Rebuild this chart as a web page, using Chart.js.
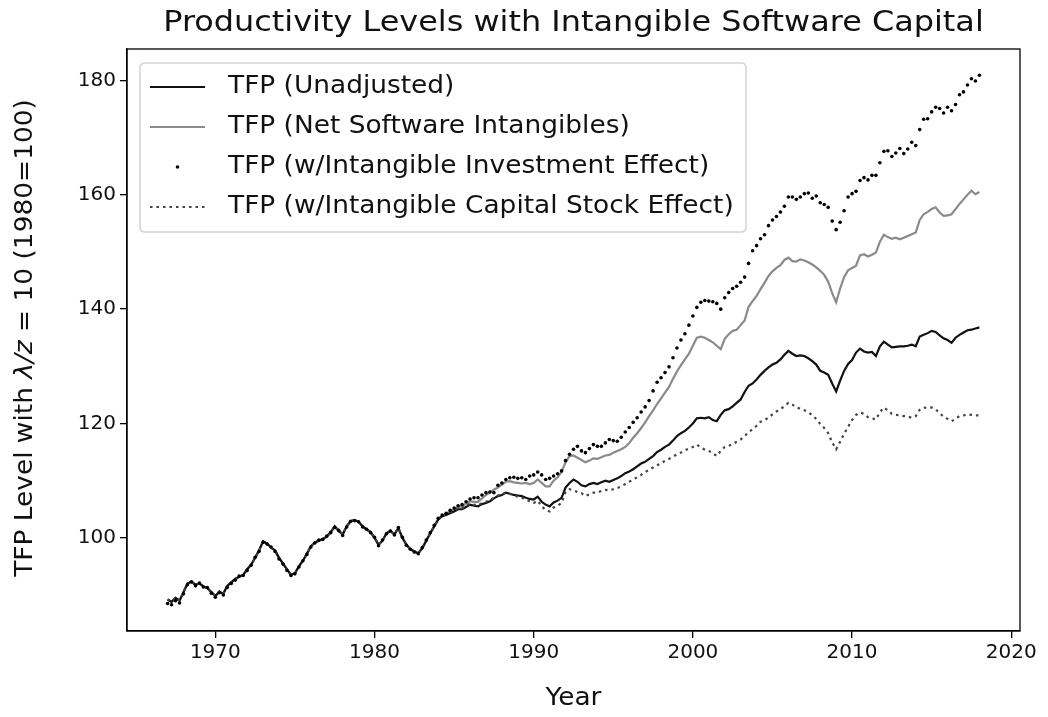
<!DOCTYPE html>
<html><head><meta charset="utf-8">
<script src="https://cdn.jsdelivr.net/npm/chart.js@4/dist/chart.umd.min.js"></script>
<style>html,body{margin:0;padding:0;background:#fff;}#wrap{width:1048px;height:717px;}</style>
</head><body><div id="wrap"><canvas id="c" width="1048" height="717"></canvas></div>
<script>
const chartTitle = 'Productivity Levels with Intangible Software Capital';
const xAxisTitle = 'Year';
const yAxisTitleParts = [['TFP Level with ', false], ['\u03bb/z', true], [' = 10 (1980=100)', false]];
const seriesNames = ['TFP (Unadjusted)', 'TFP (Net Software Intangibles)', 'TFP (w/Intangible Investment Effect)', 'TFP (w/Intangible Capital Stock Effect)'];
const startYear = 1967;           // first quarter 1967Q1, quarterly data
const xTicks = [1970, 1980, 1990, 2000, 2010, 2020];
const yTicks = [100, 120, 140, 160, 180];

const tfpUnadjusted = [
  89.2,88.8,89.5,89.0, 90.5,92.0,92.3,91.8, 92.0,91.5,91.2,90.5, 89.8,90.6,90.2,91.6,
  92.2,92.8,93.2,93.5, 94.5,95.3,96.5,97.8, 99.4,99.0,98.3,97.8, 96.5,95.5,94.5,93.5,
  93.8,95.0,96.0,97.2, 98.5,99.2,99.5,99.8, 100.2,101.0,102.0,101.2, 100.6,102.0,102.9,103.1,
  102.8,102.0,101.5,101.0, 100.0,98.8,99.5,100.8, 101.2,100.6,101.7,100.0, 98.8,98.0,97.6,97.3,
  98.2,99.5,100.8,102.0, 103.2,103.8,104.0,104.3,
  104.6,105.0,105.0,105.4, 105.8,105.6,105.5,105.9, 106.1,106.4,106.9,107.3, 107.5,107.9,107.7,107.5,
  107.4,107.3,107.0,106.8, 106.7,107.2,106.3,105.8, 105.5,106.2,106.5,107.0, 108.8,109.6,110.2,109.8,
  109.2,109.0,109.4,109.6, 109.4,109.7,110.0,109.8, 110.1,110.4,110.8,111.3, 111.6,112.0,112.5,113.0,
  113.3,113.8,114.3,115.0, 115.4,115.9,116.3,117.0, 117.8,118.3,118.7,119.3, 120.0,120.9,121.0,120.9,
  121.1,120.6,120.4,121.5, 122.3,122.5,123.0,123.6, 124.2,125.5,126.6,127.0, 127.7,128.5,129.2,129.8,
  130.3,130.6,131.2,132.0, 132.7,132.2,131.8,131.9, 131.8,131.4,130.9,130.3, 129.2,128.9,128.5,127.0,
  125.6,127.5,129.2,130.4, 131.1,132.4,133.1,132.6, 132.4,132.5,131.8,133.5, 134.3,133.8,133.3,133.4,
  133.5,133.5,133.6,133.8, 133.5,135.2,135.5,135.8, 136.2,136.0,135.4,134.9, 134.6,134.1,135.0,135.5,
  135.9,136.3,136.4,136.6, 136.8
];
const tfpNetSoftware = [
  89.2,88.8,89.5,89.0, 90.5,92.0,92.3,91.8, 92.0,91.5,91.2,90.5, 89.8,90.6,90.2,91.6,
  92.2,92.8,93.2,93.5, 94.5,95.3,96.5,97.8, 99.4,99.0,98.3,97.8, 96.5,95.5,94.5,93.5,
  93.8,95.0,96.0,97.2, 98.5,99.2,99.5,99.8, 100.2,101.0,102.0,101.2, 100.6,102.0,102.9,103.1,
  102.8,102.0,101.5,101.0, 100.0,98.8,99.5,100.8, 101.2,100.6,101.7,100.0, 98.8,98.0,97.6,97.3,
  98.2,99.5,100.8,102.0, 103.2,103.8,104.2,104.6,
  105.0,105.4,105.5,106.0, 106.4,106.3,106.3,106.9, 107.5,107.9,108.4,108.8, 109.3,109.8,109.9,109.7,
  109.6,109.5,109.6,109.4, 109.6,110.2,109.6,109.0, 109.0,110.0,110.6,111.5, 113.2,114.3,114.4,114.0,
  113.6,113.2,113.5,113.9, 113.8,114.1,114.4,114.5, 114.9,115.2,115.5,115.9, 116.6,117.5,118.3,119.2,
  120.2,121.3,122.3,123.4, 124.4,125.4,126.4,127.8, 129.1,130.2,131.2,132.2, 133.6,135.0,135.2,135.0,
  134.6,134.2,133.6,133.0, 134.8,135.6,136.2,136.4, 137.2,138.0,140.4,141.4, 142.3,143.5,144.6,145.8,
  146.6,147.2,147.7,148.6, 149.0,148.4,148.3,148.7, 148.5,148.2,147.8,147.3, 146.7,146.0,144.8,142.8,
  141.2,143.6,145.6,146.8, 147.2,147.6,149.4,149.6, 149.2,149.5,149.9,151.8, 153.0,152.6,152.3,152.5,
  152.2,152.5,152.8,153.1, 153.4,155.6,156.6,157.0, 157.5,157.8,156.9,156.3, 156.4,156.6,157.5,158.4,
  159.2,160.0,160.7,160.1, 160.5
];
const tfpInvestment = [
  88.5,88.3,89.0,88.6, 90.2,91.8,92.3,91.6, 92.1,91.4,91.3,90.3, 89.6,90.4,90.0,91.3,
  92.0,92.6,93.3,93.4, 94.3,95.2,96.6,97.6, 99.2,98.9,98.4,97.6, 96.3,95.4,94.3,93.4,
  93.7,94.9,96.0,97.1, 98.4,99.1,99.6,99.7, 100.3,100.9,101.8,101.3, 100.4,101.9,102.9,103.0,
  102.8,101.9,101.5,100.9, 100.1,98.6,99.6,100.7, 101.2,100.5,101.8,100.1, 98.7,98.0,97.5,97.2,
  98.3,99.6,100.9,102.2, 103.4,104.0,104.3,104.8,
  105.2,105.6,105.8,106.3, 106.8,107.0,107.0,107.5, 107.9,108.0,107.9,109.2, 109.6,110.2,110.5,110.6,
  110.4,110.5,110.2,110.8, 111.0,111.5,111.0,110.2, 110.4,110.8,111.2,111.7, 113.5,114.6,115.5,116.0,
  115.2,114.9,115.6,116.3, 116.0,116.0,116.6,117.2, 117.0,116.9,117.6,118.5, 119.3,120.2,121.0,122.0,
  122.9,124.0,125.7,127.2, 128.0,128.9,129.9,131.5, 133.2,134.6,135.7,137.2, 138.8,140.3,141.2,141.5,
  141.4,141.3,141.0,140.0, 142.0,142.9,143.6,144.0, 144.7,145.6,148.0,150.2, 151.1,152.3,153.0,154.6,
  155.6,156.2,157.0,158.0, 159.6,159.6,159.2,159.6, 160.2,160.3,159.4,159.8, 158.6,158.3,157.8,155.4,
  153.9,155.2,157.2,159.6, 160.2,160.6,162.5,163.0, 162.6,163.4,163.4,165.6, 167.6,167.7,166.7,167.3,
  168.1,167.2,168.0,169.2, 168.6,171.4,173.2,173.3, 174.5,175.3,175.1,174.3, 175.3,174.7,175.8,177.5,
  178.0,179.2,180.3,179.9, 180.9
];
const tfpCapitalStock = [
  89.2,88.8,89.5,89.0, 90.5,92.0,92.3,91.8, 92.0,91.5,91.2,90.5, 89.8,90.6,90.2,91.6,
  92.2,92.8,93.2,93.5, 94.5,95.3,96.5,97.8, 99.4,99.0,98.3,97.8, 96.5,95.5,94.5,93.5,
  93.8,95.0,96.0,97.2, 98.5,99.2,99.5,99.8, 100.2,101.0,102.0,101.2, 100.6,102.0,102.9,103.1,
  102.8,102.0,101.5,101.0, 100.0,98.8,99.5,100.8, 101.2,100.6,101.7,100.0, 98.8,98.0,97.6,97.3,
  98.2,99.5,100.8,102.0, 103.2,103.8,104.2,104.5,
  104.8,105.2,105.2,105.6, 106.0,105.8,105.7,106.1, 106.3,106.6,107.0,107.4, 107.6,107.9,107.7,107.4,
  107.2,107.0,106.7,106.4, 106.1,106.5,105.5,104.9, 104.6,105.3,105.6,106.1, 108.0,108.5,108.3,108.0,
  107.8,107.3,107.6,107.9, 107.9,108.2,108.4,108.3, 108.5,108.7,109.0,109.4, 109.8,110.2,110.6,111.0,
  111.5,111.9,112.3,112.7, 113.0,113.5,113.8,114.2, 114.6,114.9,115.3,115.6, 115.9,116.3,115.8,115.4,
  115.2,114.8,114.3,115.2, 115.9,116.1,116.4,116.8, 117.2,117.8,118.5,119.0, 119.6,120.3,120.6,121.0,
  121.6,122.1,122.5,123.0, 123.6,123.3,122.8,122.6, 122.3,122.0,121.4,120.8, 119.9,119.2,118.3,116.7,
  115.5,116.8,118.2,119.4, 120.6,121.5,121.9,121.7, 121.1,120.9,120.7,122.0, 122.8,122.3,121.7,121.5,
  121.4,121.3,121.2,121.0, 121.3,122.4,122.8,122.7, 122.8,122.5,121.8,121.2, 120.8,120.4,120.8,121.3,
  121.4,121.6,121.5,121.4, 121.4
];

const quarterYears = tfpUnadjusted.map((_, i) => startYear + i / 4);
const toPoints = arr => arr.map((v, i) => ({x: quarterYears[i], y: v}));

const FONT = "'DejaVu Sans', sans-serif";
const STRETCH = 1.1;   // glyphs in the reference are slightly wide

function stretchedText(ctx, text, x, y, align) {
  ctx.save();
  ctx.translate(x, y);
  ctx.scale(STRETCH, 1);
  ctx.textAlign = align;
  ctx.fillText(text, 0, 0);
  ctx.restore();
}

const framePlugin = {
  id: 'frame',
  afterDraw(chart) {
    const {ctx, chartArea: a} = chart;
    ctx.save();
    ctx.strokeStyle = '#000'; ctx.lineWidth = 1.3;
    ctx.strokeRect(a.left, a.top, a.right - a.left, a.bottom - a.top);
    ctx.restore();
  }
};

const textPlugin = {
  id: 'texts',
  afterDraw(chart) {
    const {ctx, chartArea: a} = chart;
    ctx.save();
    ctx.fillStyle = '#111';
    ctx.textBaseline = 'middle';
    ctx.font = '29px ' + FONT;
    stretchedText(ctx, chartTitle, (a.left + a.right) / 2, 23, 'center');
    ctx.font = '24px ' + FONT;
    stretchedText(ctx, xAxisTitle, (a.left + a.right) / 2, 699, 'center');
    // y label with italic part
    ctx.translate(26, (a.top + a.bottom) / 2 - 2);
    ctx.rotate(-Math.PI / 2);
    ctx.scale(STRETCH, 1);
    const fonts = yAxisTitleParts.map(p => (p[1] ? 'oblique ' : '') + '24px ' + FONT);
    let total = 0;
    const widths = yAxisTitleParts.map((p, i) => { ctx.font = fonts[i]; const w = ctx.measureText(p[0]).width; total += w; return w; });
    let x = -total / 2;
    ctx.textAlign = 'left';
    yAxisTitleParts.forEach((p, i) => { ctx.font = fonts[i]; ctx.fillText(p[0], x, 0); x += widths[i]; });
    ctx.restore();
  }
};

const legendPlugin = {
  id: 'mplLegend',
  afterDraw(chart) {
    const {ctx} = chart;
    const bx = 140, by = 63, bw = 606, bh = 169, r = 5;
    ctx.save();
    ctx.beginPath();
    ctx.moveTo(bx + r, by); ctx.lineTo(bx + bw - r, by); ctx.quadraticCurveTo(bx + bw, by, bx + bw, by + r);
    ctx.lineTo(bx + bw, by + bh - r); ctx.quadraticCurveTo(bx + bw, by + bh, bx + bw - r, by + bh);
    ctx.lineTo(bx + r, by + bh); ctx.quadraticCurveTo(bx, by + bh, bx, by + bh - r);
    ctx.lineTo(bx, by + r); ctx.quadraticCurveTo(bx, by, bx + r, by);
    ctx.closePath();
    ctx.fillStyle = 'rgba(255,255,255,0.85)'; ctx.fill();
    ctx.strokeStyle = '#d4d4d4'; ctx.lineWidth = 1.5; ctx.stroke();
    chart.data.datasets.forEach((ds, i) => {
      const y = 87 + i * 40;
      if (ds.showLine === false) {
        ctx.beginPath(); ctx.fillStyle = ds.pointBackgroundColor;
        ctx.arc(177.5, y, ds.pointRadius, 0, Math.PI * 2); ctx.fill();
      } else {
        ctx.beginPath(); ctx.strokeStyle = ds.borderColor; ctx.lineWidth = ds.borderWidth;
        ctx.setLineDash(ds.borderDash || []);
        ctx.moveTo(150, y); ctx.lineTo(205, y); ctx.stroke(); ctx.setLineDash([]);
      }
      ctx.fillStyle = '#111'; ctx.font = '24px ' + FONT; ctx.textBaseline = 'middle';
      stretchedText(ctx, ds.label, 228, y, 'left');
    });
    ctx.restore();
  }
};

new Chart(document.getElementById('c'), {
  type: 'line',
  data: {
    datasets: [
      {label: seriesNames[0], data: toPoints(tfpUnadjusted), borderColor: '#111111', borderWidth: 2.2, pointRadius: 0, tension: 0, order: 3},
      {label: seriesNames[1], data: toPoints(tfpNetSoftware), borderColor: '#8a8a8a', borderWidth: 2.2, pointRadius: 0, tension: 0, order: 4},
      {label: seriesNames[2], data: toPoints(tfpInvestment), showLine: false, pointRadius: 1.8, pointBackgroundColor: '#000000', pointBorderWidth: 0, borderColor: '#000000', order: 1},
      {label: seriesNames[3], data: toPoints(tfpCapitalStock), borderColor: '#444444', borderWidth: 2.2, borderDash: [2.5, 4], pointRadius: 0, tension: 0, order: 2}
    ]
  },
  options: {
    responsive: false, animation: false, devicePixelRatio: 1,
    layout: {padding: {top: 49, right: 28, left: 0, bottom: 0}},
    plugins: {legend: {display: false}, title: {display: false}, tooltip: {enabled: false}},
    scales: {
      x: {
        type: 'linear', min: 1964.45, max: 2020.55,
        afterBuildTicks: s => { s.ticks = xTicks.map(v => ({value: v})); },
        afterFit: s => { s.height = 86; },
        ticks: {font: {family: FONT, size: 20}, color: '#111', padding: 3, maxRotation: 0, autoSkip: false, callback: v => String(v)},
        grid: {drawOnChartArea: false, drawTicks: true, tickLength: 7, color: '#000', lineWidth: 1.3},
        border: {display: true, color: '#000', width: 1.3}
      },
      y: {
        type: 'linear', min: 83.7, max: 185.5,
        afterBuildTicks: s => { s.ticks = yTicks.map(v => ({value: v})); },
        afterFit: s => { s.width = 127; },
        ticks: {font: {family: FONT, size: 20}, color: '#111', padding: 4, autoSkip: false, callback: v => String(v)},
        grid: {drawOnChartArea: false, drawTicks: true, tickLength: 7, color: '#000', lineWidth: 1.3},
        border: {display: true, color: '#000', width: 1.3}
      }
    }
  },
  plugins: [framePlugin, textPlugin, legendPlugin]
});
</script></body></html>
